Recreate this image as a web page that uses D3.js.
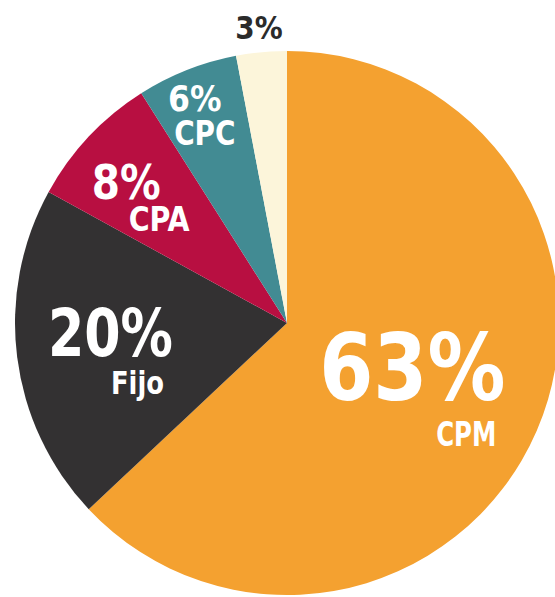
<!DOCTYPE html>
<html>
<head>
<meta charset="utf-8">
<script src="https://cdn.jsdelivr.net/npm/d3@7"></script>
<style>
  html, body { margin: 0; padding: 0; background: #fff; }
  svg text { font-family: "DejaVu Sans Condensed", "Liberation Sans Narrow", Roboto, sans-serif; font-weight: bold; }
</style>
</head>
<body>
<div id="chart"></div>
<script>
// pie data, clockwise from 12 o'clock
var names = ["CPM", "Fijo", "CPA", "CPC", ""];
var values = [63, 20, 8, 6, 3];
var colors = ["#f4a130", "#333132", "#b80f41", "#428b93", "#fcf5da"];

// label layout: radius as fraction of r, angle tweak (deg), font sizes,
// horizontal squeeze (the original font is narrow), name offset from pct
var labelLayout = [
  { r: 0.487, da: -4.4, pct: 93, psx: 0.93, name: 34, nsx: 0.8, ndx: 54, ndy: 68, fill: "#fff" },
  { r: 0.65, da: 4.2, pct: 66, psx: 0.88, name: 31.5, nsx: 0.91, ndx: 27, ndy: 50, fill: "#fff" },
  { r: 0.786, da: -2, pct: 48, psx: 0.94, name: 33, nsx: 0.96, ndx: 33, ndy: 37, fill: "#fff" },
  { r: 0.893, da: -0.7, pct: 35, psx: 1, name: 33, nsx: 0.94, ndx: 10, ndy: 35, fill: "#fff" },
  { r: 1.092, da: 0, pct: 32, psx: 0.97, name: 0, nsx: 1, ndx: 0, ndy: 0, fill: "#2b2b2b" }
];

var width = 555, height = 597;
var cx = 287, cy = 323, radius = 272;

var svg = d3.select("#chart").append("svg")
  .attr("width", width)
  .attr("height", height);

var data = names.map(function (n, i) { return { name: n, value: values[i], i: i }; });

var pie = d3.pie().sort(null).value(function (d) { return d.value; });
var arc = d3.arc().innerRadius(0).outerRadius(radius);

var g = svg.append("g").attr("transform", "translate(" + cx + "," + cy + ")");

var arcs = pie(data);

g.selectAll("path.slice")
  .data(arcs)
  .enter()
  .append("path")
    .attr("class", "slice")
    .attr("d", arc)
    .attr("fill", function (d) { return colors[d.data.i]; });

// labels
arcs.forEach(function (d) {
  var L = labelLayout[d.data.i];
  var a = (d.startAngle + d.endAngle) / 2 + L.da * Math.PI / 180;
  var rr = L.r * radius;
  var x = rr * Math.sin(a), y = -rr * Math.cos(a);

  g.append("text")
    .attr("transform", "translate(" + x + "," + y + ") scale(" + L.psx + ",1)")
    .attr("dy", "0.36em")
    .attr("text-anchor", "middle")
    .style("font-size", L.pct + "px")
    .style("fill", L.fill)
    .text(d.data.value + "%");

  if (d.data.name) {
    g.append("text")
      .attr("transform", "translate(" + (x + L.ndx) + "," + (y + L.ndy) + ") scale(" + L.nsx + ",1)")
      .attr("dy", "0.36em")
      .attr("text-anchor", "middle")
      .style("font-size", L.name + "px")
      .style("fill", L.fill)
      .text(d.data.name);
  }
});
</script>
</body>
</html>
